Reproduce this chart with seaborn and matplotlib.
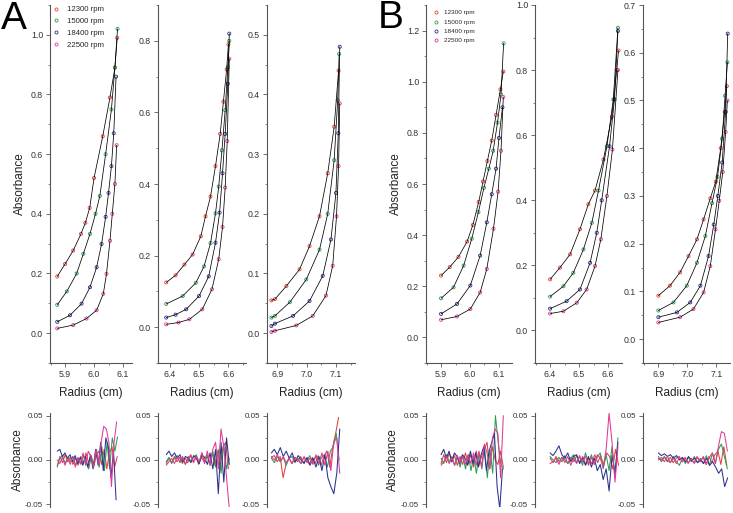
import numpy as np
import matplotlib
matplotlib.use("Agg")
import matplotlib.pyplot as plt
import seaborn as sns
from matplotlib.lines import Line2D
from matplotlib.ticker import AutoMinorLocator, FormatStrFormatter

SPEEDS = ["12300 rpm", "15000 rpm", "18400 rpm", "22500 rpm"]
COLORS = ["#e0413b", "#2e9a52", "#2b308f", "#e03a95"]

# panel A, cell 1
A1_X = [
    [5.873, 5.90, 5.928, 5.955, 5.97, 5.985, 6.00, 6.03, 6.055, 6.072, 6.08],
    [5.873, 5.906, 5.94, 5.963, 5.986, 6.005, 6.02, 6.04, 6.06, 6.072, 6.081],
    [5.873, 5.917, 5.957, 5.986, 6.009, 6.026, 6.04, 6.05, 6.06, 6.068, 6.076],
    [5.873, 5.928, 5.974, 6.009, 6.032, 6.043, 6.055, 6.063, 6.072, 6.078],
]
A1_Y = [
    [0.19, 0.232, 0.277, 0.333, 0.37, 0.42, 0.52, 0.66, 0.79, 0.89, 0.99],
    [0.095, 0.14, 0.20, 0.266, 0.333, 0.40, 0.46, 0.60, 0.75, 0.89, 1.02],
    [0.038, 0.06, 0.099, 0.154, 0.221, 0.299, 0.39, 0.47, 0.56, 0.67, 0.86],
    [0.016, 0.027, 0.049, 0.077, 0.132, 0.199, 0.31, 0.40, 0.50, 0.63],
]
# panel A, cell 2
A2_X = [
    [6.388, 6.42, 6.45, 6.478, 6.506, 6.522, 6.539, 6.556, 6.572, 6.583, 6.594, 6.60],
    [6.388, 6.444, 6.489, 6.517, 6.539, 6.556, 6.567, 6.578, 6.589, 6.598, 6.603],
    [6.388, 6.42, 6.456, 6.50, 6.533, 6.556, 6.57, 6.58, 6.589, 6.598, 6.603],
    [6.388, 6.43, 6.467, 6.511, 6.544, 6.567, 6.58, 6.589, 6.596, 6.603],
]
A2_Y = [
    [0.125, 0.145, 0.175, 0.203, 0.254, 0.31, 0.365, 0.45, 0.54, 0.63, 0.72, 0.79],
    [0.065, 0.087, 0.124, 0.17, 0.235, 0.318, 0.393, 0.494, 0.606, 0.726, 0.80],
    [0.027, 0.035, 0.05, 0.087, 0.142, 0.236, 0.32, 0.43, 0.54, 0.68, 0.82],
    [0.008, 0.013, 0.022, 0.05, 0.106, 0.19, 0.28, 0.39, 0.52, 0.75],
]
# panel A, cell 3
A3_X = [
    [6.88, 6.892, 6.931, 6.976, 7.01, 7.044, 7.072, 7.094, 7.109],
    [6.88, 6.892, 6.943, 6.999, 7.044, 7.072, 7.094, 7.106, 7.111],
    [6.88, 6.892, 6.954, 7.01, 7.055, 7.083, 7.10, 7.108, 7.113],
    [6.88, 6.892, 6.965, 7.021, 7.066, 7.089, 7.102, 7.109, 7.113],
]
A3_Y = [
    [0.055, 0.057, 0.079, 0.107, 0.146, 0.196, 0.268, 0.346, 0.44],
    [0.026, 0.029, 0.052, 0.09, 0.14, 0.20, 0.29, 0.39, 0.468],
    [0.012, 0.016, 0.029, 0.054, 0.096, 0.157, 0.235, 0.335, 0.48],
    [0.002, 0.004, 0.013, 0.029, 0.063, 0.113, 0.196, 0.28, 0.385],
]
# panel B, cell 1
B1_X = [
    [5.90, 5.93, 5.96, 5.99, 6.01, 6.03, 6.045, 6.06, 6.075, 6.09, 6.105, 6.115],
    [5.90, 5.943, 5.978, 6.006, 6.029, 6.048, 6.065, 6.08, 6.095, 6.107, 6.116],
    [5.90, 5.955, 6.001, 6.035, 6.058, 6.075, 6.09, 6.10, 6.112],
    [5.90, 5.955, 6.001, 6.035, 6.058, 6.081, 6.097, 6.107, 6.115],
]
B1_Y = [
    [0.242, 0.275, 0.315, 0.375, 0.44, 0.53, 0.61, 0.69, 0.77, 0.87, 0.97, 1.04],
    [0.153, 0.196, 0.281, 0.386, 0.49, 0.585, 0.66, 0.73, 0.84, 0.95, 1.15],
    [0.092, 0.131, 0.203, 0.32, 0.45, 0.56, 0.66, 0.78, 0.90],
    [0.069, 0.082, 0.111, 0.176, 0.268, 0.425, 0.57, 0.73, 0.94],
]
# panel B, cell 2
B2_X = [
    [6.40, 6.434, 6.469, 6.503, 6.532, 6.555, 6.584, 6.613, 6.63, 6.636],
    [6.40, 6.446, 6.48, 6.515, 6.544, 6.567, 6.596, 6.618, 6.634],
    [6.40, 6.457, 6.503, 6.538, 6.561, 6.578, 6.605, 6.622, 6.634],
    [6.40, 6.446, 6.492, 6.526, 6.555, 6.575, 6.596, 6.615, 6.634],
]
B2_Y = [
    [0.157, 0.193, 0.234, 0.311, 0.388, 0.43, 0.525, 0.657, 0.80, 0.86],
    [0.104, 0.136, 0.177, 0.249, 0.331, 0.43, 0.566, 0.71, 0.93],
    [0.067, 0.09, 0.126, 0.208, 0.30, 0.40, 0.566, 0.71, 0.92],
    [0.052, 0.059, 0.085, 0.126, 0.198, 0.28, 0.413, 0.556, 0.80],
]
# panel B, cell 3
B3_X = [
    [6.90, 6.94, 6.975, 7.004, 7.033, 7.056, 7.079, 7.098, 7.115, 7.129, 7.136],
    [6.90, 6.952, 6.998, 7.033, 7.062, 7.085, 7.104, 7.12, 7.13, 7.138],
    [6.90, 6.964, 7.01, 7.045, 7.073, 7.091, 7.105, 7.12, 7.132, 7.139],
    [6.90, 6.975, 7.021, 7.056, 7.079, 7.097, 7.11, 7.122, 7.132, 7.138],
]
B3_Y = [
    [0.091, 0.112, 0.14, 0.174, 0.209, 0.251, 0.295, 0.33, 0.40, 0.476, 0.53],
    [0.06, 0.077, 0.112, 0.16, 0.216, 0.285, 0.34, 0.42, 0.51, 0.58],
    [0.046, 0.056, 0.077, 0.112, 0.174, 0.24, 0.30, 0.37, 0.476, 0.64],
    [0.035, 0.046, 0.063, 0.098, 0.153, 0.23, 0.29, 0.35, 0.434, 0.50],
]

# residuals of the fits, read left to right across each curve's radius span
A1_RES = [
    [-0.008, 0.004, -0.003, 0.006, -0.002, 0.003, -0.005, 0.002, -0.006, 0.004, -0.004, 0.008,
     -0.003, 0.005, -0.008, 0.006, 0.01, -0.005, 0.012, -0.01, 0.008, 0.015, -0.008, 0.004],
    [-0.006, 0.002, 0.005, -0.004, 0.003, -0.002, 0.004, -0.006, 0.002, -0.005, 0.006, -0.003,
     -0.01, 0.004, -0.006, 0.012, -0.008, 0.015, -0.012, 0.02, -0.01, 0.025, 0.01, 0.026],
    [0.01, 0.012, 0.004, 0.008, 0.002, 0.006, -0.002, 0.005, -0.004, 0.003, -0.006, 0.004,
     -0.008, 0.006, -0.01, 0.012, -0.006, 0.02, -0.012, 0.025, 0.015, -0.02, 0.01, -0.045],
    [0.0, -0.004, 0.003, -0.006, 0.002, -0.005, 0.004, -0.008, 0.003, -0.004, 0.008, -0.006,
     0.01, 0.004, -0.008, 0.012, -0.005, 0.02, 0.038, 0.035, 0.02, -0.03, 0.02, 0.043],
]
A2_RES = [
    [-0.004, 0.002, -0.003, 0.004, -0.002, 0.003, -0.004, 0.002, -0.003, 0.005, -0.002, 0.004,
     -0.005, 0.003, -0.002, 0.006, -0.004, 0.008, -0.006, 0.01, -0.008, 0.015, 0.02, -0.01],
    [-0.002, 0.003, -0.004, 0.002, 0.005, -0.003, 0.002, -0.005, 0.004, -0.002, 0.003, 0.006,
     -0.004, 0.008, -0.003, 0.005, -0.006, 0.01, -0.008, 0.012, -0.015, 0.018, -0.01, 0.002],
    [0.006, 0.01, 0.004, 0.008, 0.002, 0.006, -0.002, 0.004, 0.002, -0.003, 0.005, 0.002,
     -0.004, 0.006, 0.003, -0.005, 0.008, -0.01, 0.012, -0.038, 0.02, -0.025, 0.025, -0.005],
    [-0.006, -0.002, 0.002, -0.004, 0.003, -0.002, 0.004, -0.005, 0.002, 0.006, -0.003, 0.004,
     -0.002, 0.008, -0.004, 0.01, -0.006, 0.012, 0.02, -0.01, 0.035, 0.015, -0.02, -0.055],
]
A3_RES = [
    [0.003, 0.005, -0.002, 0.004, -0.02, -0.005, 0.002, -0.004, 0.003, -0.002, 0.004, -0.003,
     0.002, -0.005, 0.003, -0.004, 0.005, -0.006, 0.004, 0.01, -0.008, 0.015, 0.03, 0.048],
    [0.002, -0.003, 0.004, -0.002, 0.003, -0.006, 0.002, 0.004, -0.003, 0.002, -0.004, 0.003,
     -0.002, 0.005, -0.003, 0.004, -0.006, 0.003, 0.006, -0.008, 0.01, 0.015, 0.03, 0.0],
    [0.008, 0.012, 0.006, 0.014, 0.004, 0.01, 0.002, 0.008, -0.002, 0.005, 0.0, -0.004,
     0.003, -0.006, 0.002, -0.008, 0.004, -0.012, 0.006, -0.02, -0.03, -0.038, -0.015, 0.035],
    [0.004, 0.0, 0.006, -0.002, 0.004, -0.003, 0.002, -0.004, 0.003, 0.0, -0.004, 0.004,
     -0.003, 0.002, -0.005, 0.006, -0.004, 0.008, -0.006, 0.01, -0.012, 0.02, 0.025, -0.015],
]
B1_RES = [
    [-0.004, 0.006, -0.003, 0.008, -0.002, 0.005, -0.006, 0.004, -0.005, 0.008, -0.004, 0.006,
     -0.008, 0.01, -0.006, 0.004, 0.012, 0.02, -0.01, 0.015, 0.0, -0.005, 0.01, -0.008],
    [0.002, -0.004, 0.006, -0.002, 0.004, -0.006, 0.003, -0.008, 0.005, -0.01, 0.006, -0.012,
     0.004, -0.015, 0.008, -0.01, 0.015, -0.02, 0.012, -0.015, 0.05, 0.02, -0.005, -0.01],
    [0.006, 0.012, 0.002, 0.01, -0.002, 0.008, 0.004, -0.004, 0.006, 0.002, -0.006, 0.01,
     -0.004, 0.008, -0.008, 0.006, 0.015, -0.012, 0.01, 0.02, 0.03, -0.03, -0.055, -0.01],
    [-0.006, -0.002, 0.004, -0.004, 0.002, -0.006, 0.005, -0.003, 0.004, -0.005, 0.006, -0.004,
     0.008, -0.006, 0.01, -0.008, 0.018, 0.008, -0.01, 0.025, 0.035, 0.03, -0.02, 0.05],
]
B2_RES = [
    [0.002, -0.003, 0.004, -0.002, 0.003, 0.0, -0.004, 0.003, -0.002, 0.005, -0.003, 0.004,
     -0.005, 0.002, -0.004, 0.006, -0.003, 0.005, -0.006, 0.008, 0.004, -0.01, 0.012, -0.006],
    [0.004, 0.0, -0.003, 0.003, -0.002, 0.005, -0.004, 0.002, 0.006, -0.003, 0.004, -0.006,
     0.008, -0.004, 0.006, -0.005, 0.003, 0.008, -0.01, 0.006, -0.012, 0.015, -0.02, 0.025],
    [0.008, 0.005, 0.01, 0.016, 0.006, 0.002, 0.008, -0.002, 0.004, 0.006, -0.004, 0.002,
     -0.006, 0.004, -0.008, 0.002, -0.012, -0.005, -0.022, -0.01, -0.035, 0.005, -0.015, 0.02],
    [-0.004, -0.002, 0.002, -0.005, 0.003, -0.003, 0.004, -0.006, 0.002, -0.004, 0.005, -0.002,
     0.004, -0.006, 0.003, -0.005, 0.006, 0.002, -0.008, 0.012, 0.053, 0.02, -0.025, 0.015],
]
B3_RES = [
    [0.002, 0.0, 0.004, -0.002, 0.003, -0.003, 0.002, 0.004, -0.002, 0.003, -0.004, 0.002,
     -0.003, 0.004, -0.002, 0.003, -0.005, 0.004, -0.003, 0.006, 0.01, -0.005, 0.015, -0.006],
    [0.004, -0.002, 0.003, 0.0, -0.003, 0.004, -0.002, -0.006, 0.002, -0.004, 0.003, -0.002,
     0.004, -0.003, 0.002, -0.004, 0.005, -0.006, 0.008, -0.004, 0.012, 0.018, 0.004, -0.01],
    [0.008, 0.005, 0.007, 0.004, 0.006, 0.002, 0.005, 0.0, 0.003, -0.002, 0.004, -0.001,
     0.002, -0.003, 0.0, -0.004, 0.002, -0.006, -0.002, -0.008, -0.015, -0.01, -0.03, -0.02],
    [0.0, 0.003, -0.002, 0.004, -0.003, 0.002, -0.004, 0.003, -0.002, 0.002, -0.003, 0.001,
     -0.004, 0.003, -0.002, 0.004, -0.005, 0.003, 0.008, -0.004, 0.015, 0.032, 0.03, 0.01],
]

# layout, in pixels of the 733 x 513 canvas: left, width, xlim, ylim, y ticks
CELLS = [
    (A1_X, A1_Y, A1_RES, 50, 82, (5.848, 6.131), (-0.1, 1.1), np.arange(0, 1.01, 0.2)),
    (A2_X, A2_Y, A2_RES, 158, 88, (6.36, 6.66), (-0.1, 0.9), np.arange(0, 0.81, 0.2)),
    (A3_X, A3_Y, A3_RES, 267, 88, (6.865, 7.165), (-0.05, 0.55), np.arange(0, 0.51, 0.1)),
    (B1_X, B1_Y, B1_RES, 426, 86, (5.848, 6.145), (-0.1, 1.3), np.arange(0, 1.21, 0.2)),
    (B2_X, B2_Y, B2_RES, 535, 87, (6.348, 6.648), (-0.1, 1.0), np.arange(0, 1.01, 0.2)),
    (B3_X, B3_Y, B3_RES, 643, 87, (6.847, 7.147), (-0.05, 0.7), np.arange(0, 0.71, 0.1)),
]

W, H = 733, 513
sns.set_style("ticks")
plt.rcParams["font.family"] = ["Liberation Sans", "DejaVu Sans"]
plt.rcParams["axes.unicode_minus"] = False
AX_COL = "#555555"


def rect(left, top, width, height):
    return [left / W, 1 - (top + height) / H, width / W, height / H]


def style_axis(ax, bottom=True):
    for s in ["top", "right"]:
        ax.spines[s].set_visible(False)
    ax.spines["left"].set_color(AX_COL)
    ax.spines["left"].set_linewidth(0.8)
    if bottom:
        ax.spines["bottom"].set_color(AX_COL)
        ax.spines["bottom"].set_linewidth(0.8)
    else:
        ax.spines["bottom"].set_visible(False)
        ax.set_xticks([])
    ax.tick_params(which="major", length=3, width=0.6, color=AX_COL, labelsize=6.3,
                   labelcolor="#333333", pad=2)
    ax.tick_params(which="minor", length=1.6, width=0.5, color=AX_COL)
    ax.yaxis.set_minor_locator(AutoMinorLocator(2))
    if bottom:
        ax.xaxis.set_minor_locator(AutoMinorLocator(2))
    ax.set_xlabel("")
    ax.set_ylabel("")


fig = plt.figure(figsize=(W / 100, H / 100), dpi=100)

for xs, ys, res, left, width, xlim, ylim, yt in CELLS:
    ax = fig.add_axes(rect(left, 5, width, 358))
    for x, y, c in zip(xs, ys, COLORS):
        sns.scatterplot(x=x, y=y, ax=ax, marker="o", s=5, facecolor="none",
                        edgecolor=c, linewidth=0.6, zorder=2)
    for x, y in zip(xs, ys):
        sns.lineplot(x=x, y=y, ax=ax, color="black", linewidth=0.55, sort=False,
                     estimator=None, zorder=3)
    ax.set_xlim(*xlim)
    ax.set_ylim(*ylim)
    ax.set_yticks(yt)
    ax.yaxis.set_major_formatter(FormatStrFormatter("%.1f"))
    ax.set_xticks(np.arange(np.ceil(xlim[0] * 10) / 10, xlim[1], 0.1))
    ax.xaxis.set_major_formatter(FormatStrFormatter("%.1f"))
    style_axis(ax)
    ax.set_xlabel("Radius (cm)", fontsize=8.5, color="#222222", labelpad=6)

    rax = fig.add_axes(rect(left, 413, width, 94))
    for x, r, c in zip(xs, res, COLORS):
        rx = np.linspace(x[0], x[-1], len(r))
        sns.lineplot(x=rx, y=r, ax=rax, color=c, linewidth=0.75, sort=False, estimator=None)
    rax.set_xlim(*xlim)
    rax.set_ylim(-0.053, 0.053)
    rax.set_yticks([-0.05, 0.0, 0.05])
    rax.yaxis.set_major_formatter(FormatStrFormatter("%.2f"))
    style_axis(rax, bottom=False)
    rax.tick_params(labelsize=5.8)

# axis titles and panel letters
for xpos in (20, 396):
    fig.text(xpos / W, 1 - 184 / H, "Absorbance", rotation=90, ha="center", va="center",
             fontsize=8.5, color="#222222")
for xpos in (18, 393):
    fig.text(xpos / W, 1 - 460 / H, "Absorbance", rotation=90, ha="center", va="center",
             fontsize=8.5, color="#222222")
fig.text(14 / W, 1 - 19 / H, "A", ha="center", va="center", fontsize=28, color="black")
fig.text(391 / W, 1 - 18 / H, "B", ha="center", va="center", fontsize=28, color="black")

handles = [Line2D([], [], marker="o", linestyle="none", markersize=2.2, markerfacecolor="none",
                  markeredgecolor=c, markeredgewidth=0.6) for c in COLORS]
fig.legend(handles, SPEEDS, loc="upper left", bbox_to_anchor=(53 / W, 1 - 6 / H),
           frameon=False, fontsize=5.6, handlelength=0.8, handletextpad=1.0,
           labelspacing=0.55, borderaxespad=0, borderpad=0)
fig.legend(handles, SPEEDS, loc="upper left", bbox_to_anchor=(433 / W, 1 - 10 / H),
           frameon=False, fontsize=4.6, handlelength=0.8, handletextpad=1.0,
           labelspacing=0.6, borderaxespad=0, borderpad=0)

fig.savefig("out.png", dpi=100)
